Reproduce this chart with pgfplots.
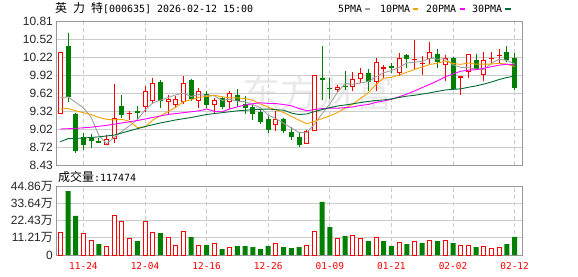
\documentclass[border=0pt]{standalone}
\usepackage{fontspec}
\setmainfont{Liberation Sans}
\newfontfamily\cjk{Noto Sans CJK SC}
\newfontfamily\mono{DejaVu Sans Mono}
\usepackage{pgfplots}
\usepackage{pgfplotstable}
\pgfplotsset{compat=1.18}
\definecolor{cred}{HTML}{FF0000}
\definecolor{cgreen}{HTML}{008000}
\definecolor{maA}{HTML}{A0A0A0}
\definecolor{maB}{HTML}{F5A300}
\definecolor{maC}{HTML}{FF00FF}
\definecolor{maD}{HTML}{006B35}
\definecolor{gridc}{HTML}{CCCCCC}
\definecolor{framec}{HTML}{999999}
\definecolor{wm}{HTML}{EAEAEA}

\pgfplotstableread{
i o h l c
0 9.27 10.31 9.27 10.30
6 8.76 8.93 8.76 8.86
7 8.86 9.77 8.80 9.21
9 9.27 9.33 9.18 9.30
11 9.39 9.74 9.31 9.66
12 9.50 9.88 9.44 9.79
14 9.47 9.59 9.28 9.52
15 9.43 9.58 9.39 9.52
16 9.48 9.91 9.45 9.79
18 9.50 9.71 9.37 9.65
20 9.42 9.55 9.27 9.51
22 9.48 9.65 9.36 9.62
28 9.10 9.33 8.99 9.20
32 8.79 9.02 8.79 9.00
33 9.00 9.92 8.99 9.92
36 9.67 9.76 9.64 9.73
38 9.73 9.97 9.66 9.86
39 9.85 10.03 9.79 9.95
41 9.81 10.21 9.65 10.13
42 10.02 10.09 9.85 10.05
44 9.95 10.28 9.91 10.21
46 10.18 10.50 10.00 10.19
47 10.10 10.24 9.92 10.12
48 10.19 10.47 10.09 10.30
50 10.08 10.25 9.83 10.21
52 9.88 9.91 9.60 9.91
53 9.97 10.27 9.87 10.27
55 9.93 10.30 9.83 10.17
56 10.20 10.30 10.12 10.21
57 10.24 10.35 10.12 10.25
}\upk

\pgfplotstableread{
i o h l c
1 10.40 10.62 9.47 9.56
2 9.27 9.29 8.64 8.67
3 8.89 8.96 8.68 8.77
4 8.88 8.94 8.71 8.83
5 8.83 8.88 8.80 8.80
8 9.41 9.59 9.21 9.26
10 9.33 9.41 9.18 9.29
13 9.81 9.84 9.37 9.49
17 9.84 9.86 9.49 9.52
19 9.61 9.66 9.37 9.43
21 9.54 9.56 9.36 9.40
23 9.60 9.69 9.40 9.49
24 9.45 9.58 9.27 9.38
25 9.39 9.44 9.18 9.27
26 9.31 9.36 9.11 9.15
27 9.20 9.25 8.97 9.01
29 9.20 9.22 8.96 8.99
30 8.98 9.06 8.84 8.89
31 8.90 8.96 8.74 8.76
34 9.88 10.40 9.51 9.84
35 9.71 9.87 9.53 9.70
37 9.74 9.99 9.68 9.72
40 9.96 10.02 9.65 9.81
43 10.07 10.12 9.96 10.04
45 10.25 10.27 10.03 10.18
49 10.27 10.35 10.03 10.13
51 10.21 10.22 9.69 9.69
54 10.17 10.27 10.01 10.02
58 10.30 10.40 10.13 10.17
59 10.21 10.28 9.68 9.71
}\dnk

\pgfplotstableread{
i v
0 14.95
3 14.3
4 9.75
6 5.63
7 26.0
8 21.9
9 10.8
11 21.9
12 14.95
14 11.7
15 6.5
16 15.6
18 6.5
20 7.8
22 5.2
28 7.8
32 6.5
33 15.6
36 10.8
38 13.0
39 10.8
41 11.5
44 8.45
46 8.9
48 9.5
50 9.5
52 6.3
53 6.3
55 5.6
56 4.3
57 5.0
}\volup

\pgfplotstableread{
i v
1 41.6
2 25.4
5 7.15
10 9.1
13 14.3
17 11.7
19 6.5
21 3.9
23 5.85
24 5.85
25 5.2
26 3.9
27 5.85
29 5.2
30 4.55
31 5.2
34 34.5
35 18.2
37 12.35
40 9.1
42 9.1
43 5.85
45 7.15
47 7.8
49 9.1
51 7.8
54 5.2
58 7.15
59 11.75
}\voldn

\newcommand\cjkT{\cjk\fontsize{12}{12}\selectfont}
\newcommand\monoT{\mono\fontsize{10}{12}\selectfont}
\pgfplotsset{
  candle/.style={only marks, mark=*, mark size=0pt, mark options={draw=none, fill=none},
    error bars/.cd, y dir=minus, y explicit, error mark=none},
}

\begin{document}
\begin{tikzpicture}[x=1bp,y=1bp]
\path[use as bounding box] (0,0) rectangle (578,276);
\node[anchor=west, inner sep=0, text=wm, font=\cjk\fontsize{38}{38}\selectfont] at (242,183) {东方财富};

% title
\node[anchor=west, inner sep=0] at (55,267.5) {\cjkT 英\monoT\ \cjkT 力\monoT\ \cjkT 特\monoT[000635] 2026-02-12 15:00};
% legend
\node[anchor=west, inner sep=0] at (338,267) {\monoT 5PMA};
\fill[maA] (365,265.8) rectangle (370,268.3);
\node[anchor=west, inner sep=0] at (380,267) {\monoT 10PMA};
\fill[maB] (413,265.8) rectangle (418,268.3);
\node[anchor=west, inner sep=0] at (426,267) {\monoT 20PMA};
\fill[maC] (460,265.8) rectangle (465,268.3);
\node[anchor=west, inner sep=0] at (472,267) {\monoT 30PMA};
\fill[maD] (505,265.8) rectangle (511,268.3);
% volume title
\node[anchor=west, inner sep=0] at (58,99.3) {\cjkT 成交量\monoT:117474};

\begin{axis}[
  at={(56bp,110.7bp)}, anchor=south west, scale only axis,
  width=466bp, height=144bp,
  xmin=-0.56, xmax=59.96, ymin=8.43, ymax=10.81,
  xtick={3,11,19,27,35,43,51,59}, xticklabels={},
  ytick={8.43,8.7275,9.025,9.3225,9.62,9.9175,10.215,10.5125,10.81},
  yticklabels={8.43,8.72,9.02,9.32,9.62,9.92,10.22,10.52,10.81},
  xmajorgrids, ymajorgrids,
  major x grid style={gridc, dash pattern=on 4bp off 3bp, line width=0.8bp},
  major y grid style={gridc, line width=0.8bp},
  axis line style={framec, line width=1bp},
  major tick length=0pt,
  yticklabel style={font=\fontsize{12}{12}\selectfont, text=black!85, inner sep=0pt, xshift=-3bp},
]
% red wicks
\addplot[candle, error bar style={cred, line width=1bp}]
  table[x=i, y=h, y error minus expr={\thisrow{h}-\thisrow{l}}] {\upk};
% red bodies
\addplot[candle, error bar style={cred, line width=5bp}]
  table[x=i, y=c, y error minus expr={max(\thisrow{c}-\thisrow{o},0.02)}] {\upk};
\addplot[candle, error bar style={white, line width=3bp}]
  table[x=i, y expr={\thisrow{c}-0.0166}, y error minus expr={max(\thisrow{c}-\thisrow{o}-0.0332,0)}] {\upk};
% green wicks
\addplot[candle, error bar style={cgreen, line width=1bp}]
  table[x=i, y=h, y error minus expr={\thisrow{h}-\thisrow{l}}] {\dnk};
% green bodies
\addplot[candle, error bar style={cgreen, line width=5bp}]
  table[x=i, y=o, y error minus expr={max(\thisrow{o}-\thisrow{c},0.02)}] {\dnk};

% moving averages
\addplot[maA, line width=0.9bp, mark=none] coordinates {(0,9.55)(1,9.56)(2,9.47)(3,9.38)(4,9.226)(5,8.926)(6,8.786)(7,8.894)(8,8.992)(9,9.086)(10,9.184)(11,9.344)(12,9.46)(13,9.506)(14,9.55)(15,9.596)(16,9.622)(17,9.568)(18,9.60)(19,9.582)(20,9.58)(21,9.502)(22,9.522)(23,9.49)(24,9.48)(25,9.432)(26,9.382)(27,9.26)(28,9.202)(29,9.124)(30,9.048)(31,8.97)(32,8.968)(33,9.112)(34,9.282)(35,9.444)(36,9.638)(37,9.782)(38,9.77)(39,9.792)(40,9.814)(41,9.894)(42,9.96)(43,9.996)(44,10.048)(45,10.122)(46,10.134)(47,10.148)(48,10.20)(49,10.184)(50,10.19)(51,10.09)(52,10.048)(53,10.042)(54,10.02)(55,10.012)(56,10.116)(57,10.184)(58,10.164)(59,10.102)};
\addplot[maB, line width=0.9bp, mark=none] coordinates {(0,9.36)(1,9.37)(2,9.33)(3,9.30)(4,9.27)(5,9.22)(6,9.19)(7,9.18)(8,9.19)(9,9.156)(10,9.055)(11,9.065)(12,9.177)(13,9.249)(14,9.318)(15,9.39)(16,9.483)(17,9.514)(18,9.553)(19,9.566)(20,9.588)(21,9.562)(22,9.545)(23,9.545)(24,9.531)(25,9.506)(26,9.442)(27,9.391)(28,9.346)(29,9.302)(30,9.24)(31,9.176)(32,9.114)(33,9.157)(34,9.203)(35,9.246)(36,9.304)(37,9.375)(38,9.441)(39,9.537)(40,9.629)(41,9.766)(42,9.871)(43,9.883)(44,9.92)(45,9.968)(46,10.014)(47,10.054)(48,10.098)(49,10.116)(50,10.156)(51,10.112)(52,10.098)(53,10.121)(54,10.102)(55,10.101)(56,10.103)(57,10.116)(58,10.103)(59,10.061)};
\addplot[maC, line width=0.9bp, mark=none] coordinates {(0,9.03)(2,9.04)(4,9.06)(6,9.09)(8,9.13)(10,9.17)(12,9.22)(14,9.27)(16,9.30)(18,9.33)(19,9.361)(20,9.322)(21,9.314)(22,9.361)(23,9.397)(24,9.425)(25,9.448)(26,9.463)(27,9.453)(28,9.45)(29,9.434)(30,9.414)(31,9.369)(32,9.33)(33,9.351)(34,9.367)(35,9.376)(36,9.373)(37,9.383)(38,9.394)(39,9.42)(40,9.435)(41,9.471)(42,9.493)(43,9.52)(44,9.562)(45,9.607)(46,9.659)(47,9.715)(48,9.77)(49,9.827)(50,9.893)(51,9.939)(52,9.985)(53,10.002)(54,10.011)(55,10.035)(56,10.059)(57,10.085)(58,10.101)(59,10.089)};
\addplot[maD, line width=0.9bp, mark=none] coordinates {(0,8.82)(1,8.87)(3,8.88)(5,8.90)(7,8.93)(9,9.00)(11,9.07)(13,9.13)(15,9.18)(17,9.22)(19,9.27)(21,9.30)(23,9.33)(25,9.35)(27,9.36)(28,9.35)(29,9.341)(30,9.294)(31,9.268)(32,9.279)(33,9.317)(34,9.351)(35,9.381)(36,9.41)(37,9.427)(38,9.447)(39,9.468)(40,9.486)(41,9.501)(42,9.51)(43,9.528)(44,9.551)(45,9.573)(46,9.587)(47,9.607)(48,9.628)(49,9.652)(50,9.675)(51,9.685)(52,9.694)(53,9.72)(54,9.742)(55,9.772)(56,9.807)(57,9.848)(58,9.881)(59,9.905)};
\end{axis}

\begin{axis}[
  at={(56bp,21bp)}, anchor=south west, scale only axis,
  width=466bp, height=69bp,
  xmin=-0.56, xmax=59.96, ymin=0, ymax=44.86,
  xtick={3,11,19,27,35,43,51,59},
  xticklabels={11-24,12-04,12-16,12-26,01-09,01-21,02-02,02-12},
  ytick={0,11.21,22.43,33.64,44.86},
  yticklabels={0,11.21{\cjk 万},22.43{\cjk 万},33.64{\cjk 万},44.86{\cjk 万}},
  xmajorgrids, ymajorgrids,
  major x grid style={gridc, dash pattern=on 4bp off 3bp, line width=0.8bp},
  major y grid style={gridc, line width=0.8bp},
  axis line style={framec, line width=1bp},
  major tick length=0pt,
  yticklabel style={font=\fontsize{12}{12}\selectfont, text=black!85, inner sep=0pt, xshift=-3bp},
  xticklabel style={font=\mono\fontsize{9.5}{10}\selectfont, text=cred, inner sep=0pt, yshift=-7.5bp},
]
\addplot[ybar, bar width=4bp, bar shift=0pt, draw=cred, fill=white, line width=1bp] table[x=i, y=v] {\volup};
\addplot[ybar, bar width=5bp, bar shift=0pt, draw=none, fill=cgreen] table[x=i, y=v] {\voldn};
\end{axis}
\end{tikzpicture}
\end{document}
